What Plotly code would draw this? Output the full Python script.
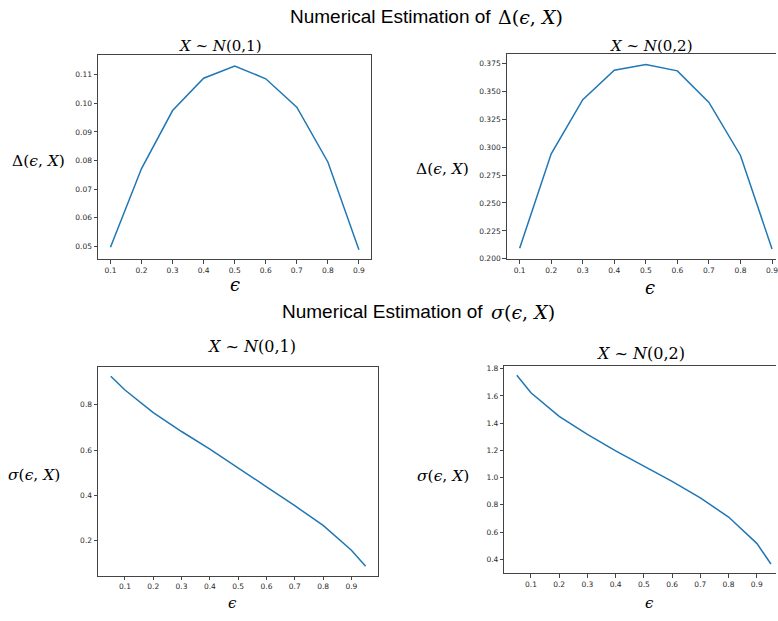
import plotly.graph_objects as go

W, H = 778, 621

# ---- data ----
eps_delta = [0.1, 0.2, 0.3, 0.4, 0.5, 0.6, 0.7, 0.8, 0.9]
delta_n01 = [0.0497, 0.0772, 0.0975, 0.1088, 0.1131, 0.1086, 0.0987, 0.0795, 0.0488]
delta_n02 = [0.2094, 0.2940, 0.3424, 0.3688, 0.3738, 0.3682, 0.3400, 0.2925, 0.2088]

eps_sigma = [0.05, 0.1, 0.2, 0.3, 0.4, 0.5, 0.6, 0.7, 0.8, 0.9, 0.95]
sigma_n01 = [0.927, 0.866, 0.766, 0.682, 0.604, 0.522, 0.437, 0.353, 0.266, 0.156, 0.085]
sigma_n02 = [1.752, 1.624, 1.450, 1.317, 1.196, 1.085, 0.972, 0.851, 0.710, 0.517, 0.365]

x_ticks = [0.1, 0.2, 0.3, 0.4, 0.5, 0.6, 0.7, 0.8, 0.9]
y_ticks_1 = [0.05, 0.06, 0.07, 0.08, 0.09, 0.10, 0.11]
y_ticks_2 = [0.200, 0.225, 0.250, 0.275, 0.300, 0.325, 0.350, 0.375]
y_ticks_3 = [0.2, 0.4, 0.6, 0.8]
y_ticks_4 = [0.4, 0.6, 0.8, 1.0, 1.2, 1.4, 1.6, 1.8]

LINE = "#1f77b4"
AX = "#444444"
TICKFONT = dict(family="DejaVu Sans", size=7.5, color="#2a2a2a")
SERIF = "DejaVu Serif"
SANS = "Liberation Sans"


def px_x(p):
    return p / W


def px_y(p):
    return 1 - p / H


fig = go.Figure()

panels = [
    # (x data, y data, xdomain px, ydomain px(top,bottom), xrange, yrange, yticks, yfmt, mirror_y)
    (eps_delta, delta_n01, (98.3, 372.3), (53.3, 260.0), (0.06, 0.94), (0.0454, 0.1170), y_ticks_1, ".2f", True),
    (eps_delta, delta_n02, (508.0, 778.0), (52.3, 260.0), (0.0589, 0.9126), (0.1994, 0.3835), y_ticks_2, ".3f", False),
    (eps_sigma, sigma_n01, (98.3, 379.3), (368.3, 579.3), (0.005, 0.995), (0.0429, 0.969), y_ticks_3, ".1f", True),
    (eps_sigma, sigma_n02, (505.7, 778.0), (368.0, 576.7), (0.006, 0.968), (0.298, 1.817), y_ticks_4, ".1f", False),
]

layout_axes = {}
for i, (xs, ys, xd, yd, xr, yr, yt, yfmt, mir) in enumerate(panels, start=1):
    sfx = "" if i == 1 else str(i)
    fig.add_trace(go.Scatter(
        x=xs, y=ys, mode="lines",
        line=dict(color=LINE, width=1.5),
        xaxis="x" + sfx, yaxis="y" + sfx, showlegend=False,
        hoverinfo="skip",
    ))
    layout_axes["xaxis" + sfx] = dict(
        domain=[px_x(xd[0]), px_x(xd[1])], range=list(xr),
        anchor="y" + sfx, tickvals=x_ticks, tickformat=".1f",
        ticks="outside", ticklen=3.5, tickwidth=0.8, tickcolor=AX,
        showline=True, linecolor=AX, linewidth=1, mirror=True,
        showgrid=False, zeroline=False, tickfont=TICKFONT,
        ticklabeloverflow="allow",
    )
    layout_axes["yaxis" + sfx] = dict(
        domain=[px_y(yd[1]), px_y(yd[0])], range=list(yr),
        anchor="x" + sfx, tickvals=yt, tickformat=yfmt,
        ticks="outside", ticklen=3.5, tickwidth=0.8, tickcolor=AX,
        showline=True, linecolor=AX, linewidth=1, mirror=mir,
        showgrid=False, zeroline=False, tickfont=TICKFONT,
        ticklabeloverflow="allow",
    )

annotations = []


def ann(text, x, y, size, family, xanchor="center", color="black"):
    annotations.append(dict(
        text=text, x=px_x(x), y=px_y(y), xref="paper", yref="paper",
        xanchor=xanchor, yanchor="middle", showarrow=False,
        font=dict(family=family, size=size, color=color),
    ))


# main titles
ann("Numerical Estimation of", 494, 15, 19, SANS, xanchor="right")
ann("Δ(<i>ϵ</i>, <i>X</i>)", 497, 15, 19, SERIF, xanchor="left")
ann("Numerical Estimation of", 486, 313, 19, SANS, xanchor="right")
ann("<i>σ</i>(<i>ϵ</i>, <i>X</i>)", 490, 313, 19, SERIF, xanchor="left")

# subplot titles
ann("<i>X</i> ~ <i>N</i>(0,1)", 221, 44, 15, SERIF)
ann("<i>X</i> ~ <i>N</i>(0,2)", 653, 44, 15, SERIF)
ann("<i>X</i> ~ <i>N</i>(0,1)", 252, 348, 16, SERIF)
ann("<i>X</i> ~ <i>N</i>(0,2)", 642, 355, 16, SERIF)

# y labels
ann("Δ(<i>ϵ</i>, <i>X</i>)", 39, 161, 15.5, SERIF)
ann("Δ(<i>ϵ</i>, <i>X</i>)", 444, 169, 15.5, SERIF)
ann("<i>σ</i>(<i>ϵ</i>, <i>X</i>)", 34, 478, 15.5, SERIF)
ann("<i>σ</i>(<i>ϵ</i>, <i>X</i>)", 444, 479, 15.5, SERIF)

# x labels
ann("<i>ϵ</i>", 236, 285, 18, SERIF)
ann("<i>ϵ</i>", 652, 288, 18, SERIF)
ann("<i>ϵ</i>", 233, 607, 15, SERIF)
ann("<i>ϵ</i>", 651, 607, 15, SERIF)

fig.update_layout(
    width=W, height=H, autosize=False,
    margin=dict(l=0, r=0, t=0, b=0),
    paper_bgcolor="white", plot_bgcolor="white",
    annotations=annotations,
    **layout_axes,
)

fig.write_html(
    "out.html",
    config={"displayModeBar": False},
    post_script="document.body.style.margin='0';document.body.style.overflow='hidden';",
)
